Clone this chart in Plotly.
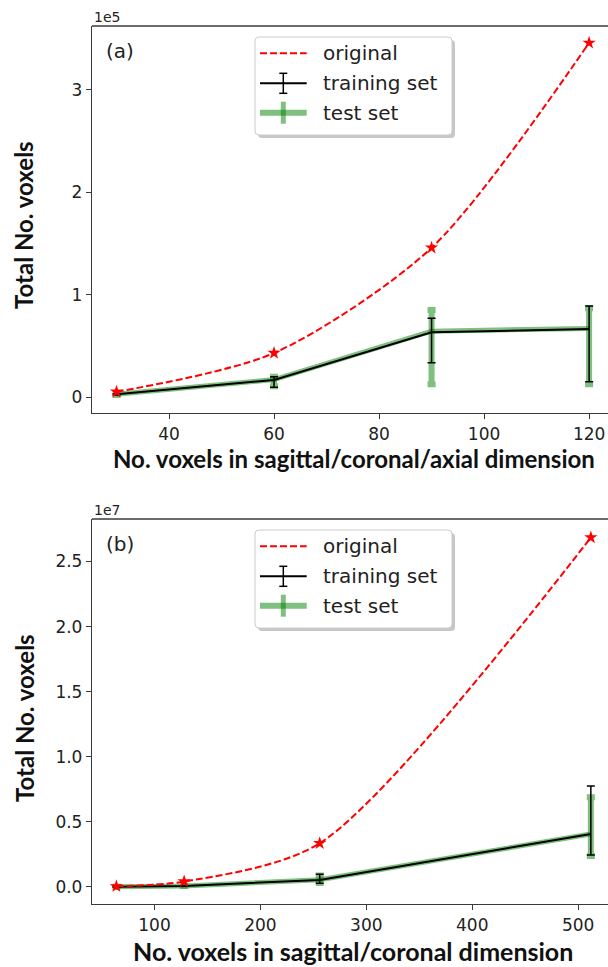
import plotly.graph_objects as go

W, H = 608, 967

# ---------------- data: panel (a) ----------------
a_x = [30, 60, 90, 120]
a_original = [5400, 43200, 145800, 345600]
a_train = [2900, 16900, 63400, 66600]
a_train_plus = [600, 3100, 13600, 22400]
a_train_minus = [600, 7100, 29700, 51400]
a_test = [3000, 17300, 64500, 67200]
a_test_plus = [700, 2800, 20600, 19600]
a_test_minus = [700, 6500, 51800, 54500]
a_yticks = [0, 100000, 200000, 300000]
a_yticklabels = ["0", "1", "2", "3"]
a_xticks = [40, 60, 80, 100, 120]

# ---------------- data: panel (b) ----------------
b_x = [64, 128, 256, 512]
b_original = [52000, 420000, 3360000, 26840000]
b_train = [10000, 80000, 540000, 4070000]
b_train_plus = [3000, 12000, 435000, 3690000]
b_train_minus = [3000, 12000, 260000, 1610000]
b_test = [10000, 80000, 550000, 4070000]
b_test_plus = [3000, 12000, 330000, 2820000]
b_test_minus = [3000, 12000, 250000, 1690000]
b_yticks = [0, 5e6, 1e7, 1.5e7, 2e7, 2.5e7]
b_yticklabels = ["0.0", "0.5", "1.0", "1.5", "2.0", "2.5"]
b_xticks = [100, 200, 300, 400, 500]

legend_labels = ["original", "training set", "test set"]

RED = "red"
GREEN = "rgba(0,128,0,0.5)"
AXC = "#3a3a3a"
TXT = "#222222"
TICKFONT = dict(family="DejaVu Sans", size=17, color=TXT)
XTITLEFONT_A = dict(family="Lato", size=24, color="#111111")
XTITLEFONT_B = dict(family="Lato", size=25, color="#111111")
YTITLEFONT = dict(family="Lato", size=24, color="#111111")


def px(x):
    return x / W


def py(y):
    return 1 - y / H


fig = go.Figure()

panels = [
    dict(x=a_x, orig=a_original, tr=a_train, trp=a_train_plus, trm=a_train_minus,
         te=a_test, tep=a_test_plus, tem=a_test_minus, xa="x", ya="y"),
    dict(x=b_x, orig=b_original, tr=b_train, trp=b_train_plus, trm=b_train_minus,
         te=b_test, tep=b_test_plus, tem=b_test_minus, xa="x2", ya="y2"),
]

for p in panels:
    fig.add_trace(go.Scatter(
        x=p["x"], y=p["te"], mode="lines", xaxis=p["xa"], yaxis=p["ya"],
        line=dict(color=GREEN, width=5),
        error_y=dict(type="data", symmetric=False, array=p["tep"], arrayminus=p["tem"],
                     color=GREEN, thickness=6, width=4),
        showlegend=False, hoverinfo="skip"))
    fig.add_trace(go.Scatter(
        x=p["x"], y=p["tr"], mode="lines", xaxis=p["xa"], yaxis=p["ya"],
        line=dict(color="black", width=2),
        error_y=dict(type="data", symmetric=False, array=p["trp"], arrayminus=p["trm"],
                     color="black", thickness=1.5, width=4),
        showlegend=False, hoverinfo="skip"))
    fig.add_trace(go.Scatter(
        x=p["x"], y=p["orig"], mode="lines+markers", xaxis=p["xa"], yaxis=p["ya"],
        line=dict(color=RED, width=2, dash="7px,3px", shape="spline", smoothing=0.8),
        marker=dict(symbol="star", size=10, color=RED),
        showlegend=False, hoverinfo="skip"))

# pixel geometry of the two plot areas
A_TOP, A_BOT = 26, 413
B_TOP, B_BOT = 519, 904
LEFT = 92

axis_common = dict(showline=True, linecolor=AXC, linewidth=1.3, ticks="outside",
                   ticklen=5, tickwidth=1.3, tickcolor=AXC, tickfont=TICKFONT,
                   showgrid=False, zeroline=False, automargin=False, mirror=False)

fig.update_layout(
    width=W, height=H, margin=dict(l=0, r=0, t=0, b=0),
    paper_bgcolor="white", plot_bgcolor="white", showlegend=False,
    xaxis=dict(domain=[px(LEFT), 1], range=[25.33, 123.6], tickvals=a_xticks,
               anchor="y", **axis_common),
    yaxis=dict(domain=[py(A_BOT), py(A_TOP)], range=[-15300, 362000],
               tickvals=a_yticks, ticktext=a_yticklabels, anchor="x", **axis_common),
    xaxis2=dict(domain=[px(LEFT), 1], range=[41.0, 528.2], tickvals=b_xticks,
                anchor="y2", **axis_common),
    yaxis2=dict(domain=[py(B_BOT), py(B_TOP)], range=[-1306000, 28260000],
                tickvals=b_yticks, ticktext=b_yticklabels, anchor="x2", **axis_common),
)

shapes = []
annotations = []


def rpath(x0, y0, x1, y1, r=4):
    X0, X1 = px(x0), px(x1)
    Y0, Y1 = py(y0), py(y1)
    rx, ry = r / W, r / H
    return (f"M{X0+rx},{Y0} L{X1-rx},{Y0} Q{X1},{Y0} {X1},{Y0-ry} "
            f"L{X1},{Y1+ry} Q{X1},{Y1} {X1-rx},{Y1} L{X0+rx},{Y1} "
            f"Q{X0},{Y1} {X0},{Y1+ry} L{X0},{Y0-ry} Q{X0},{Y0} {X0+rx},{Y0} Z")


for top, tag, expo in [(A_TOP, "(a)", "1e5"), (B_TOP, "(b)", "1e7")]:
    # top spine
    shapes.append(dict(type="line", xref="paper", yref="paper",
                       x0=px(LEFT), x1=1, y0=py(top), y1=py(top),
                       line=dict(color=AXC, width=1.3)))
    # panel tag and offset text
    annotations.append(dict(text=tag, x=px(104), y=py(top + 25), xref="paper", yref="paper",
                            xanchor="left", yanchor="middle", showarrow=False,
                            font=dict(family="DejaVu Sans", size=20, color=TXT)))
    annotations.append(dict(text=expo, x=px(92), y=py(top - 9.5), xref="paper", yref="paper",
                            xanchor="left", yanchor="middle", showarrow=False,
                            font=dict(family="DejaVu Sans", size=14, color=TXT)))
    # legend box (shadow + frame)
    bx0, bx1 = 255, 452
    by0, by1 = top + 11, top + 109
    shapes.append(dict(type="path", xref="paper", yref="paper",
                       path=rpath(bx0 + 3, by0 + 3, bx1 + 3, by1 + 3),
                       fillcolor="rgba(0,0,0,0.22)", line=dict(width=0)))
    shapes.append(dict(type="path", xref="paper", yref="paper",
                       path=rpath(bx0, by0, bx1, by1),
                       fillcolor="white", line=dict(color="#cccccc", width=1)))
    rows = [top + 27.3, top + 57.3, top + 86.7]
    sx0, sx1, sxc = 260, 306.7, 283.3
    # original
    shapes.append(dict(type="line", xref="paper", yref="paper",
                       x0=px(sx0), x1=px(sx1), y0=py(rows[0]), y1=py(rows[0]),
                       line=dict(color=RED, width=2, dash="7px,3px")))
    # training set
    shapes.append(dict(type="line", xref="paper", yref="paper",
                       x0=px(sx0), x1=px(sx1), y0=py(rows[1]), y1=py(rows[1]),
                       line=dict(color="black", width=2)))
    shapes.append(dict(type="line", xref="paper", yref="paper",
                       x0=px(sxc), x1=px(sxc), y0=py(rows[1] - 10), y1=py(rows[1] + 10),
                       line=dict(color="black", width=1.5)))
    for dy in (-10, 10):
        shapes.append(dict(type="line", xref="paper", yref="paper",
                           x0=px(sxc - 4), x1=px(sxc + 4), y0=py(rows[1] + dy), y1=py(rows[1] + dy),
                           line=dict(color="black", width=1.5)))
    # test set
    shapes.append(dict(type="line", xref="paper", yref="paper",
                       x0=px(sx0), x1=px(sx1), y0=py(rows[2]), y1=py(rows[2]),
                       line=dict(color=GREEN, width=6)))
    shapes.append(dict(type="line", xref="paper", yref="paper",
                       x0=px(sxc), x1=px(sxc), y0=py(rows[2] - 11), y1=py(rows[2] + 11),
                       line=dict(color=GREEN, width=5)))
    for lab, yy in zip(legend_labels, rows):
        annotations.append(dict(text=lab, x=px(321), y=py(yy), xref="paper", yref="paper",
                                xanchor="left", yanchor="middle", showarrow=False,
                                font=dict(family="DejaVu Sans", size=20, color=TXT)))

# axis titles (bold)
annotations.append(dict(text="<b>No. voxels in sagittal/coronal/axial dimension</b>",
                        x=px(354), y=py(459), xref="paper", yref="paper",
                        xanchor="center", yanchor="middle", showarrow=False, font=XTITLEFONT_A))
annotations.append(dict(text="<b>No. voxels in sagittal/coronal dimension</b>",
                        x=px(353), y=py(951), xref="paper", yref="paper",
                        xanchor="center", yanchor="middle", showarrow=False, font=XTITLEFONT_B))
annotations.append(dict(text="<b>Total No. voxels</b>", textangle=-90,
                        x=px(24), y=py(225), xref="paper", yref="paper",
                        xanchor="center", yanchor="middle", showarrow=False, font=YTITLEFONT))
annotations.append(dict(text="<b>Total No. voxels</b>", textangle=-90,
                        x=px(24), y=py(718), xref="paper", yref="paper",
                        xanchor="center", yanchor="middle", showarrow=False, font=YTITLEFONT))

fig.update_layout(shapes=shapes, annotations=annotations)
fig.write_html("out.html")
